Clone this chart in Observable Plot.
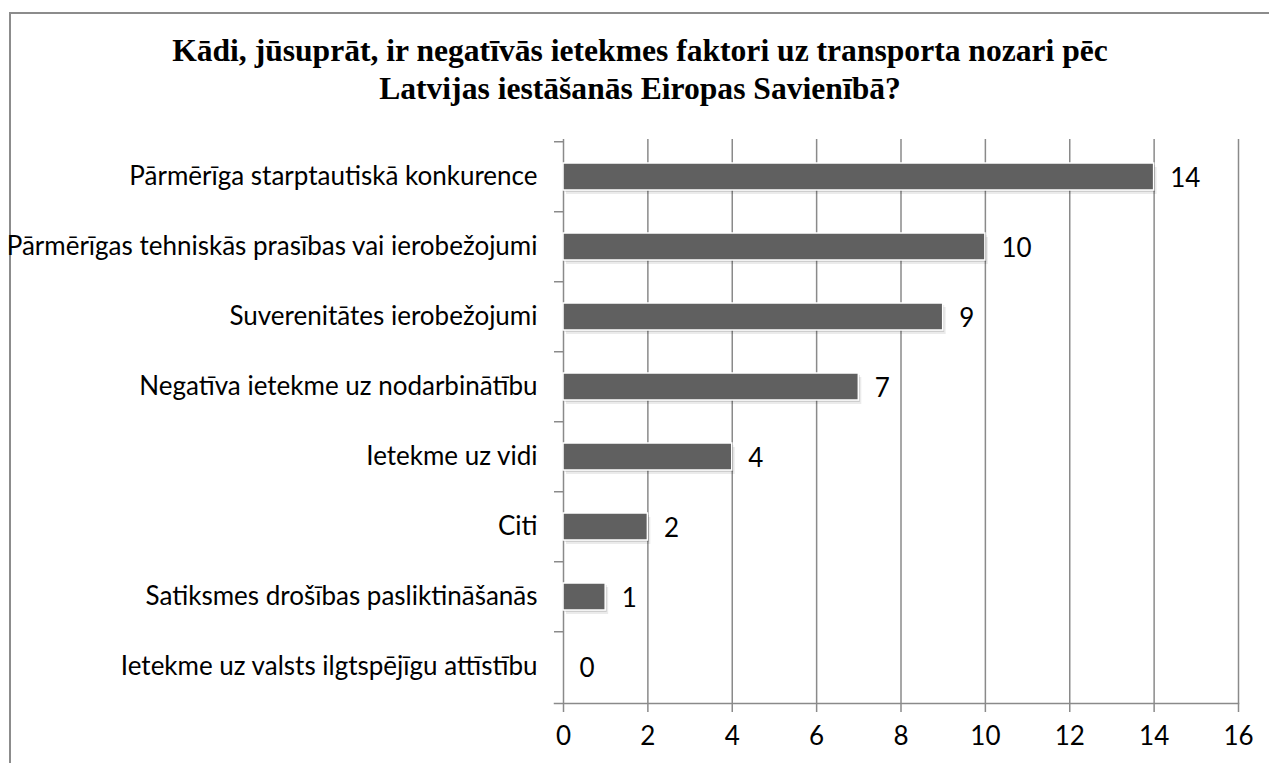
<!DOCTYPE html>
<html>
<head>
<meta charset="utf-8">
<script src="https://cdn.jsdelivr.net/npm/d3@7"></script>
<script src="https://cdn.jsdelivr.net/npm/@observablehq/plot@0.6"></script>
<style>
  html, body { margin: 0; padding: 0; background: #fff; overflow: hidden; width: 1269px; height: 763px; }
  #frame { position: absolute; left: 9px; top: 12px; width: 1400px; height: 900px;
           border-left: 2px solid #8c8c8c; border-top: 2px solid #8c8c8c; box-sizing: border-box; }
  #title { position: absolute; left: 0; top: 32px; width: 1280px; text-align: center;
           font-family: "Liberation Serif", "Times New Roman", serif; font-weight: bold;
           font-size: 31.6px; line-height: 38px; color: #000; }
  #chart { position: absolute; left: 0; top: 125px; }
</style>
</head>
<body>
<div id="frame"></div>
<div id="title">Kādi, jūsuprāt, ir negatīvās ietekmes faktori uz transporta nozari pēc<br>Latvijas iestāšanās Eiropas Savienībā?</div>
<div id="chart"></div>
<script>
const categories = [
  "Pārmērīga starptautiskā konkurence",
  "Pārmērīgas tehniskās prasības vai ierobežojumi",
  "Suverenitātes ierobežojumi",
  "Negatīva ietekme uz nodarbinātību",
  "Ietekme uz vidi",
  "Citi",
  "Satiksmes drošības pasliktināšanās",
  "Ietekme uz valsts ilgtspējīgu attīstību"
];
const values = [14, 10, 9, 7, 4, 2, 1, 0];
const xTicks = [0, 2, 4, 6, 8, 10, 12, 14, 16];

const data = categories.map((c, i) => ({cat: c, value: values[i]}));

const W = 1269, H = 638, mT = 14, mB = 60, mL = 563, mR = 31;
const step = (H - mT - mB) / categories.length;
const grid = "#8a8a8a";
const fs = 26;

const chart = Plot.plot({
  width: W, height: H,
  marginTop: mT, marginBottom: mB, marginLeft: mL, marginRight: mR,
  style: {fontFamily: "Lato, 'Noto Sans', sans-serif", fontSize: fs + "px", color: "#000", background: "transparent"},
  x: {domain: [0, 16], axis: null},
  y: {domain: categories, paddingInner: 0.62, paddingOuter: 0.31, axis: null},
  marks: [
    Plot.ruleX(xTicks.filter(d => d > 0), {stroke: grid, strokeWidth: 1.5}),
    Plot.ruleX([0], {stroke: grid, strokeWidth: 1.5}),
    Plot.frame({anchor: "bottom", stroke: grid, strokeWidth: 1.5, insetLeft: -9}),
    Plot.ruleY(categories, {y: d => d, dy: -step / 2, x1: 0, x2: 0, insetLeft: -9, stroke: grid, strokeWidth: 1.5}),
    Plot.barX(data, {x: "value", y: "cat", fill: "#000", fillOpacity: 0.08, dx: 3, dy: 4}),
    Plot.barX(data, {x: "value", y: "cat", fill: "#000", fillOpacity: 0.12, dx: 1.5, dy: 2}),
    Plot.barX(data, {x: "value", y: "cat", fill: "#606060", stroke: "#fff", strokeWidth: 1.5}),
    Plot.text(data, {x: "value", y: "cat", text: d => String(d.value), textAnchor: "start", dx: 16, dy: 2, fontSize: fs, fill: "#000"}),
    Plot.axisX({ticks: xTicks, tickSize: 9, tickPadding: 14, stroke: grid, strokeWidth: 1.5, fontSize: fs, label: null, tickFormat: d => String(d)}),
    Plot.axisY({tickSize: 0, tickPadding: 26, fontSize: fs, label: null})
  ]
});
document.getElementById("chart").appendChild(chart);
</script>
</body>
</html>
